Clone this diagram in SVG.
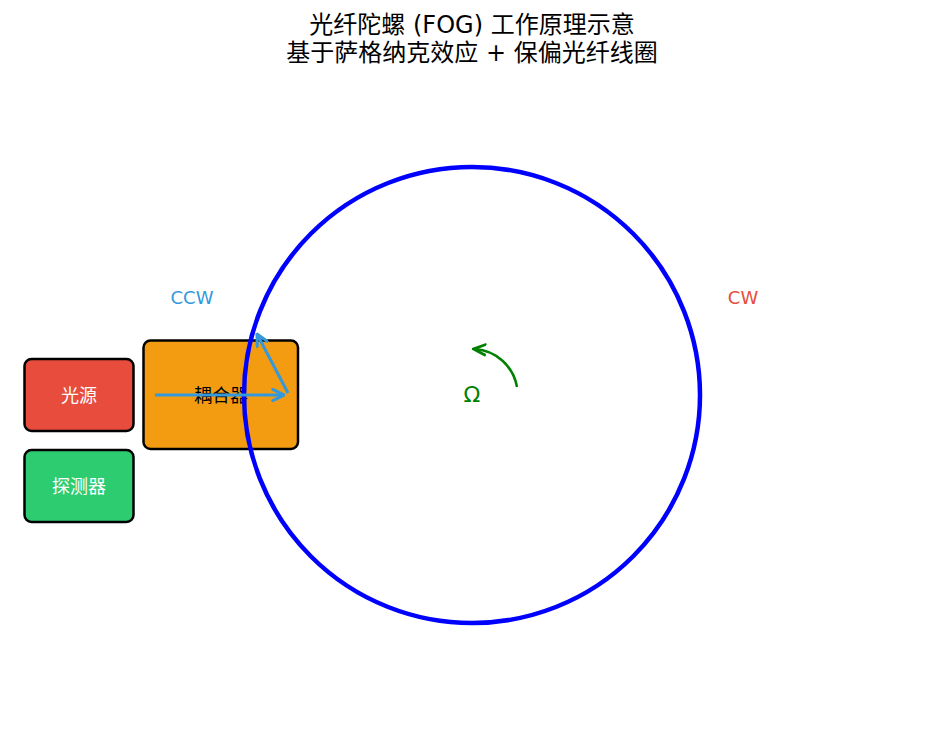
<svg xmlns="http://www.w3.org/2000/svg" width="944" height="730" viewBox="0 0 944 730">
<style>
text{font-family:"DejaVu Sans","Noto Sans CJK SC",sans-serif;text-anchor:middle;dominant-baseline:central}
.box{stroke:#000;stroke-width:2.5}
.title{font-size:24px;fill:#000}
.lbl{font-size:18px;fill:#fff}
</style>
<defs>
<marker id="ab" viewBox="0 0 10 10" refX="9" refY="5" markerWidth="14" markerHeight="14" orient="auto" markerUnits="userSpaceOnUse">
<path d="M1,1 L9,5 L1,9" fill="none" stroke="#3498db" stroke-width="2.2" stroke-linejoin="round" stroke-linecap="round"/>
</marker>
<marker id="ag" viewBox="0 0 10 10" refX="8" refY="5" markerWidth="14" markerHeight="14" orient="auto" markerUnits="userSpaceOnUse">
<path d="M0,1 L9,5 L0,9" fill="none" stroke="green" stroke-width="2"/>
</marker>
</defs>
<rect width="944" height="730" fill="#fff"/>
<text class="title" x="472" y="25">光纤陀螺 (FOG) 工作原理示意</text>
<text class="title" x="472" y="53">基于萨格纳克效应 + 保偏光纤线圈</text>
<g id="source"><rect class="box" x="24.5" y="359" width="109" height="72" rx="7" fill="#e74c3c"/><text class="lbl" x="79" y="395">光源</text></g>
<g id="detector"><rect class="box" x="24.5" y="450" width="109" height="72" rx="7" fill="#2ecc71"/><text class="lbl" x="79" y="486">探测器</text></g>
<g id="coupler"><rect class="box" x="143.5" y="340.5" width="154.5" height="108.5" rx="7" fill="#f39c12"/><text x="221" y="395" font-size="18" fill="#000">耦合器</text></g>
<g id="coil"><circle cx="472" cy="395" r="228" fill="none" stroke="#0000ff" stroke-width="4.5"/></g>
<g id="connectors">
<line x1="155" y1="395" x2="284" y2="395" stroke="#3498db" stroke-width="3" marker-end="url(#ab)"/>
<line x1="288" y1="393" x2="257" y2="334" stroke="#3498db" stroke-width="3" marker-end="url(#ab)"/>
<path d="M517,387 A46,46 0 0 0 475,349" fill="none" stroke="green" stroke-width="2.5" marker-end="url(#ag)"/>
</g>
<text x="472" y="394" font-size="22" fill="green">Ω</text>
<text x="192" y="297" font-size="18" fill="#3498db">CCW</text>
<text x="743" y="297" font-size="18" fill="#e74c3c">CW</text>
</svg>
